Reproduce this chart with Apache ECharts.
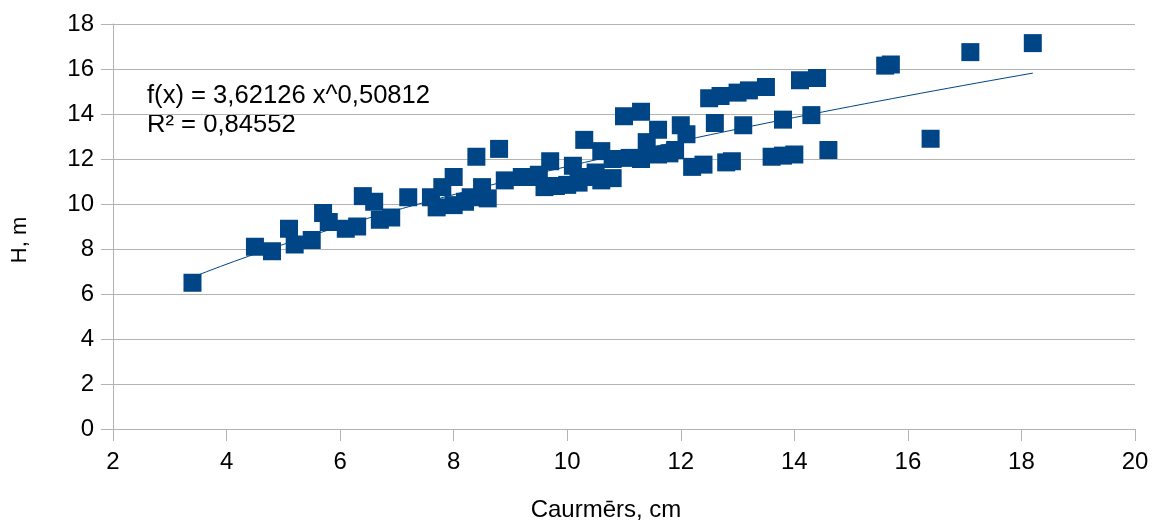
<!DOCTYPE html>
<html>
<head>
<meta charset="utf-8">
<script src="https://cdn.jsdelivr.net/npm/echarts@6/dist/echarts.min.js"></script>
<style>
  html, body { margin: 0; padding: 0; background: #ffffff; }
  #chart { width: 1152px; height: 521px; }
</style>
</head>
<body>
<div id="chart"></div>
<script>
// Trunk diameter (cm) against tree height (m)
const diameters = [
  3.4, 4.5, 4.8, 5.1, 5.2, 5.5, 5.7, 5.8, 6.1, 6.3,
  6.4, 6.6, 6.7, 6.9, 7.2, 7.6, 7.7, 7.8, 8.0, 8.0,
  8.2, 8.3, 8.4, 8.5, 8.6, 8.8, 8.9, 9.2, 9.4, 9.5,
  9.6, 9.7, 9.8, 10.0, 10.1, 10.2, 10.3, 10.3, 10.5, 10.6,
  10.6, 10.8, 10.8, 11.0, 11.1, 11.3, 11.3, 11.4, 11.6, 11.6,
  11.8, 11.9, 12.0, 12.1, 12.2, 12.4, 12.5, 12.6, 12.7, 12.8,
  12.9, 13.0, 13.1, 13.2, 13.5, 13.6, 13.8, 13.8, 14.0, 14.1,
  14.3, 14.4, 14.6, 15.6, 15.7, 16.4, 17.1, 18.2
];
const heights = [
  6.5, 8.1, 7.9, 8.9, 8.2, 8.4, 9.6, 9.2, 8.9, 9.0,
  10.35, 10.1, 9.3, 9.4, 10.3, 10.3, 9.85, 10.75, 11.2, 9.95,
  10.1, 10.3, 12.1, 10.75, 10.25, 12.45, 11.05, 11.2, 11.2, 11.3,
  10.75, 11.9, 10.8, 10.85, 11.7, 10.95, 12.85, 11.2, 11.4, 12.35,
  11.05, 11.15, 12.0, 13.9, 12.05, 14.1, 12.0, 12.75, 13.3, 12.2,
  12.25, 12.4, 13.5, 13.1, 11.65, 11.75, 14.7, 13.6, 14.8, 11.85,
  11.9, 14.95, 13.5, 15.05, 15.2, 12.1, 12.15, 13.75, 12.2, 15.5,
  13.95, 15.6, 12.4, 16.15, 16.2, 12.9, 16.75, 17.15
];

// Power trend fitted to the points: f(x) = a * x^b
const fitA = 3.62126;
const fitB = 0.50812;
const fitR2 = '0,84552';
const fitLabel = 'f(x) = 3,62126 x^0,50812';

const xTicks = [2, 4, 6, 8, 10, 12, 14, 16, 18, 20];
const yTicks = [0, 2, 4, 6, 8, 10, 12, 14, 16, 18];

const xTitle = 'Caurmērs, cm';
const yTitle = 'H, m';

const points = diameters.map((d, i) => [d, heights[i]]);

// Trend curve spans the observed diameter range
const xMin = Math.min(...diameters);
const xMax = Math.max(...diameters);
const trend = [];
const steps = 60;
for (let i = 0; i <= steps; i++) {
  const x = xMin + (xMax - xMin) * i / steps;
  trend.push([x, fitA * Math.pow(x, fitB)]);
}

const font = '"Liberation Sans", Arial, sans-serif';
const gridColor = '#b3b3b3';
const markColor = '#004586';

const chart = echarts.init(document.getElementById('chart'), null, { renderer: 'canvas' });
chart.setOption({
  animation: false,
  backgroundColor: '#ffffff',
  grid: { left: 113, right: 17, top: 24, bottom: 92, outerBoundsMode: 'none', containLabel: false },
  xAxis: {
    type: 'value',
    min: xTicks[0],
    max: xTicks[xTicks.length - 1],
    interval: 2,
    axisLine: { show: true, lineStyle: { color: gridColor, width: 1 } },
    axisTick: { show: true, length: 12, lineStyle: { color: gridColor } },
    axisLabel: { fontFamily: font, fontSize: 24, color: '#000000', margin: 21 },
    splitLine: { show: false }
  },
  yAxis: {
    type: 'value',
    min: yTicks[0],
    max: yTicks[yTicks.length - 1],
    interval: 2,
    axisLine: { show: true, lineStyle: { color: gridColor, width: 1 } },
    axisTick: { show: true, length: 12, lineStyle: { color: gridColor } },
    axisLabel: { fontFamily: font, fontSize: 24, color: '#000000', margin: 19 },
    splitLine: { show: true, lineStyle: { color: gridColor, width: 1 } }
  },
  graphic: [
    {
      type: 'text',
      x: 606,
      y: 510,
      style: { text: xTitle, font: '24px ' + font, fill: '#000000', align: 'center', verticalAlign: 'middle' }
    },
    {
      type: 'text',
      x: 20,
      y: 240,
      rotation: Math.PI / 2,
      style: { text: yTitle, font: '22px ' + font, fill: '#000000', align: 'center', verticalAlign: 'middle' }
    },
    {
      type: 'text',
      left: 147,
      top: 83,
      style: { text: fitLabel, font: '25.6px ' + font, fill: '#000000' }
    },
    {
      type: 'text',
      left: 147,
      top: 112,
      style: { text: 'R² = ' + fitR2, font: '25.6px ' + font, fill: '#000000' }
    }
  ],
  series: [
    {
      type: 'line',
      data: trend,
      showSymbol: false,
      symbol: 'none',
      smooth: false,
      lineStyle: { color: markColor, width: 1 },
      z: 1
    },
    {
      type: 'scatter',
      data: points,
      symbol: 'rect',
      symbolSize: 18,
      itemStyle: { color: markColor, opacity: 1 },
      z: 2
    }
  ]
});
</script>
</body>
</html>
